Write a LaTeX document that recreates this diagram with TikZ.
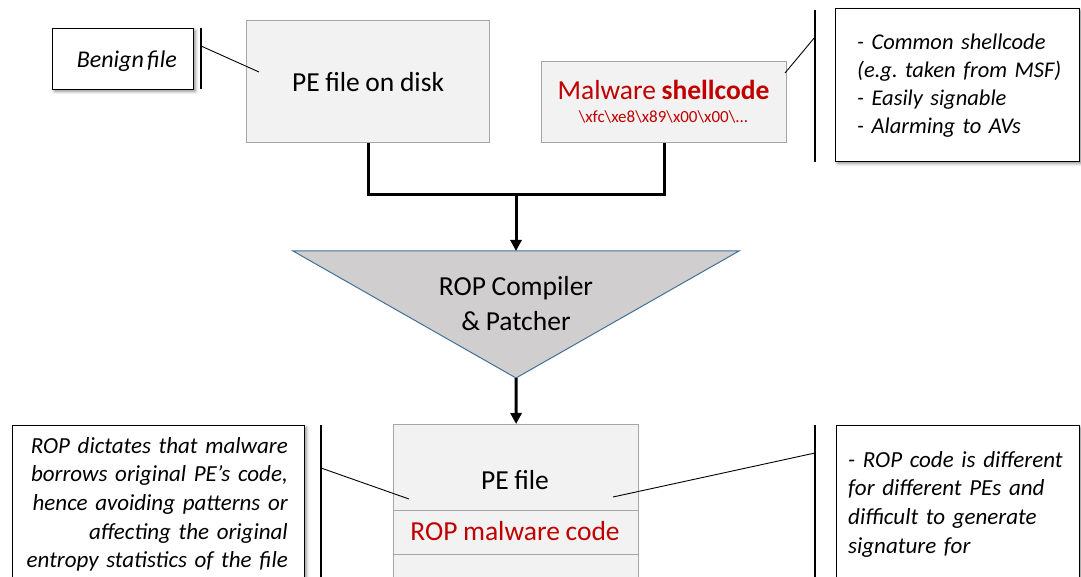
\documentclass[tikz,border=0pt]{standalone}
\usepackage{fontspec}
\setmainfont{Carlito}[WordSpace=0.9, ItalicFeatures={WordSpace=0.6}]
\usetikzlibrary{shadows.blur,arrows.meta}
\definecolor{boxfill}{HTML}{F2F2F2}
\definecolor{boxline}{HTML}{A6A6A6}
\definecolor{malred}{HTML}{C00000}
\definecolor{trifill}{HTML}{D0CECE}
\definecolor{triline}{HTML}{41719C}
\frenchspacing
\begin{document}
\begin{tikzpicture}[x=1pt,y=-1pt,
  font=\fontsize{27.5}{32}\selectfont,
  filebox/.style={draw=boxline, fill=boxfill, line width=1.2pt, inner sep=0pt},
  notebox/.style={draw=black, fill=white, line width=1pt, inner sep=0pt,
    blur shadow={shadow xshift=2pt, shadow yshift=-2pt, shadow blur radius=3pt, shadow opacity=45}},
  notetext/.style={inner sep=0pt, font=\fontsize{23}{28.7}\selectfont\itshape},
  bar/.style={line width=1.4pt},
  leader/.style={line width=0.9pt},
  flow/.style={line width=3pt},
  flowarrow/.style={flow, -{Triangle[length=11pt,width=11pt]}},
]
\useasboundingbox (0,0) rectangle (1081,577);
\clip (0,0) rectangle (1081,577);

% --- inputs ---
\node[filebox, minimum width=243, minimum height=122, anchor=north west] (disk) at (246,20) {PE file on disk};
\node[filebox, minimum width=245, minimum height=81, anchor=north west] (shell) at (541,61) {};
\node[anchor=base, inner sep=0pt, text=malred] (shelltitle) at (663.5,100) {Malware \textbf{shellcode}};
\node[anchor=base, inner sep=0pt, text=malred, font=\fontsize{17}{20}\selectfont] (shellbytes) at (663.5,123)
  {\textbackslash xfc\textbackslash xe8\textbackslash x89\textbackslash x00\textbackslash x00\textbackslash ...};

% --- compiler ---
\coordinate (triL) at (293,251);
\coordinate (triR) at (739,251);
\coordinate (triT) at (516,251);
\coordinate (triB) at (516,378);
\draw[draw=triline, fill=trifill, line width=1pt] (triL) -- (triR) -- (triB) -- cycle;
\node[anchor=base, inner sep=0pt] (compA) at (516,295) {ROP Compiler};
\node[anchor=base, inner sep=0pt] (compB) at (516,330) {\& Patcher};

% --- output file ---
\node[filebox, minimum width=245, minimum height=86, anchor=north west] (pe) at (393,424) {};
\node[filebox, minimum width=245, minimum height=44, anchor=north west] (ropcode) at (393,510) {};
\node[filebox, minimum width=245, minimum height=60, anchor=north west] (petail) at (393,554) {};
\node[anchor=base, inner sep=0pt] (pelabel) at (515,489) {PE file};
\node[anchor=base, inner sep=0pt, text=malred] (roplabel) at (515,540) {ROP malware code};

% --- flow ---
\coordinate (join) at (516,195);
\draw[flow] (disk.south) |- (join) -| (shell.south);
\draw[flowarrow] (join) -- (triT);
\draw[flowarrow] (triB) -- (pe.north);

% --- callouts ---
\node[notebox, anchor=north west, minimum width=141, minimum height=61] (benign) at (52,28) {};
\node[notetext, anchor=base east, font=\fontsize{24}{28.7}\selectfont\itshape] (benigntext) at (177,68) {Benign file};
\coordinate (benignbarT) at (201,28);
\coordinate (benignbarB) at (201,89);
\coordinate (benignfoot) at (201,46);
\coordinate (diskpin) at (259,72);
\draw[bar] (benignbarT) -- (benignbarB);
\draw[leader] (benignfoot) -- (diskpin);

\node[notebox, anchor=north west, minimum width=244, minimum height=153] (shellnote) at (835,8) {};
\node[notetext, anchor=base west, text width=220pt, align=left, font=\fontsize{22.5}{28}\selectfont\itshape] (shellnotetext) at (857,50)
  {- Common shellcode\\(e.g. taken from MSF)\\- Easily signable\\- Alarming to AVs};
\coordinate (shellbarT) at (815,10);
\coordinate (shellbarB) at (815,162);
\coordinate (shellfoot) at (815,37);
\coordinate (shellpin) at (785,73);
\draw[bar] (shellbarT) -- (shellbarB);
\draw[leader] (shellfoot) -- (shellpin);

\node[notebox, anchor=north west, minimum width=292, minimum height=200] (ropnote) at (12,425) {};
\node[notetext, anchor=base east, text width=280pt, align=right] (ropnotetext) at (288,453)
  {ROP dictates that malware\\borrows original PE’s code,\\hence avoiding patterns or\\affecting the original\\entropy statistics of the file};
\coordinate (ropbarT) at (321,425);
\coordinate (ropbarB) at (321,600);
\coordinate (ropfoot) at (321,468);
\coordinate (pepinL) at (409,499);
\draw[bar] (ropbarT) -- (ropbarB);
\draw[leader] (ropfoot) -- (pepinL);

\node[notebox, anchor=north west, minimum width=243, minimum height=200] (diffnote) at (836,425) {};
\node[notetext, anchor=base west, text width=225pt, align=left] (diffnotetext) at (848,467)
  {- ROP code is different\\for different PEs and\\difficult to generate\\signature for};
\coordinate (diffbarT) at (815,425);
\coordinate (diffbarB) at (815,600);
\coordinate (difffoot) at (815,453);
\coordinate (pepinR) at (613,497);
\draw[bar] (diffbarT) -- (diffbarB);
\draw[leader] (difffoot) -- (pepinR);
\end{tikzpicture}
\end{document}
